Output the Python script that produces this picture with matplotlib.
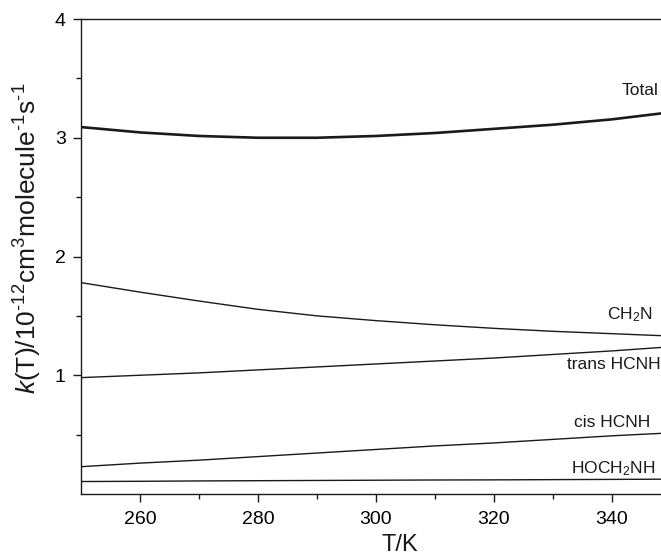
import matplotlib
matplotlib.use("Agg")
import matplotlib.pyplot as plt

plt.rcParams['font.family'] = ['Liberation Sans', 'DejaVu Sans']
plt.rcParams['mathtext.fontset'] = 'custom'
plt.rcParams['mathtext.rm'] = 'Liberation Sans'
plt.rcParams['mathtext.it'] = 'Liberation Sans:italic'
plt.rcParams['mathtext.default'] = 'regular'

# Data
T = [250, 260, 270, 280, 290, 300, 310, 320, 330, 340, 350]
k_total = [3.09, 3.045, 3.015, 3.0, 3.0, 3.015, 3.04, 3.075, 3.11, 3.155, 3.215]
k_ch2n = [1.78, 1.70, 1.625, 1.555, 1.50, 1.46, 1.425, 1.395, 1.37, 1.35, 1.33]
k_trans = [0.98, 1.00, 1.02, 1.045, 1.07, 1.095, 1.12, 1.145, 1.175, 1.205, 1.24]
k_cis = [0.23, 0.26, 0.285, 0.315, 0.345, 0.375, 0.405, 0.43, 0.46, 0.49, 0.515]
k_hoch2nh = [0.105, 0.107, 0.110, 0.112, 0.114, 0.116, 0.118, 0.119, 0.121, 0.123, 0.125]

labels = ['Total', 'CH$_2$N', 'trans HCNH', 'cis HCNH', 'HOCH$_2$NH']
label_x = [347.8, 346.8, 348.3, 346.4, 347.3]
label_y = [3.395, 1.508, 1.087, 0.598, 0.21]

x_ticks = [260, 280, 300, 320, 340]
y_ticks = [1, 2, 3, 4]

W, H = 661, 556
fig = plt.figure(figsize=(W / 100, H / 100), dpi=100)
left_px, right_px, top_px, bot_px = 81, 671, 19, 494
ax = fig.add_axes([left_px / W, 1 - bot_px / H, (right_px - left_px) / W, (bot_px - top_px) / H])

col = '#1a1a1a'
ax.plot(T, k_total, color=col, lw=1.9)
for series in (k_ch2n, k_trans, k_cis, k_hoch2nh):
    ax.plot(T, series, color=col, lw=1.0)

for lab, lx, ly in zip(labels, label_x, label_y):
    ax.text(lx, ly, lab, ha='right', va='center', fontsize=12.5, color=col)

ax.set_xlim(250, 350)
ax.set_ylim(0, 4)
ax.set_xticks(x_ticks)
ax.set_xticks([270, 290, 310, 330, 350], minor=True)
ax.set_yticks(y_ticks)
ax.set_yticks([0.5, 1.5, 2.5, 3.5], minor=True)

for s in ax.spines.values():
    s.set_linewidth(1.0)
    s.set_color(col)
ax.spines['right'].set_visible(False)

ax.tick_params(which='major', direction='out', length=6, width=1.0, labelsize=14, pad=5, color=col)
ax.tick_params(which='minor', direction='out', length=3.3, width=1.0, color=col)
ax.tick_params(axis='x', which='major', pad=6.5)
ax.tick_params(top=False, right=False)

ylab = r'$\mathit{k}$(T)/10$^{\text{-}12}$cm$^3$molecule$^{\text{-}1}$s$^{\text{-}1}$'
fig.text(28 / W, 1 - 238 / H, ylab,
         rotation=90, ha='center', va='center', fontsize=19, color=col)
fig.text(400 / W, 1 - 545 / H, 'T/K', ha='center', va='center', fontsize=17, color=col)

fig.savefig('out.png', dpi=100)
